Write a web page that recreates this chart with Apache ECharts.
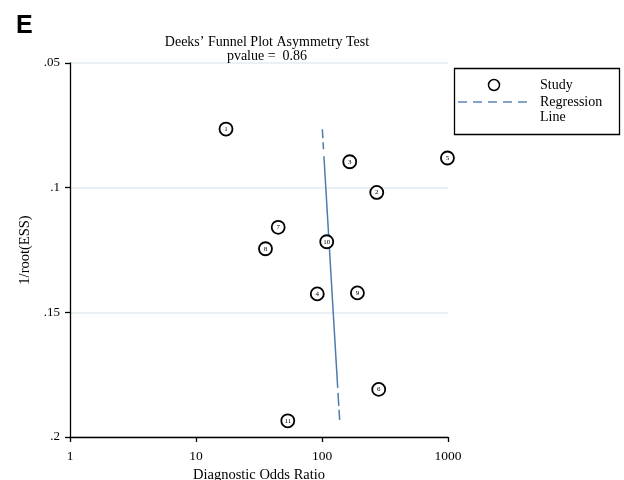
<!DOCTYPE html>
<html><head><meta charset="utf-8">
<script src="https://cdn.jsdelivr.net/npm/echarts@6/dist/echarts.min.js"></script>
<style>html,body{margin:0;padding:0;background:#fff}#c{width:624px;height:480px}</style>
</head><body><div id="c"></div>
<script>
const studies = ['1','2','3','4','5','6','7','8','9','10','11'];
const dor = [17.3, 272, 166, 91.7, 990, 282, 44.9, 35.6, 191, 109, 53.5];
const invRootEss = [0.0765, 0.1019, 0.0896, 0.1426, 0.0881, 0.1809, 0.1159, 0.1245, 0.1422, 0.1217, 0.1935];
const regX = [100.6, 138];
const regY = [0.0766, 0.1932];
const xTicks = [1, 10, 100, 1000];
const yTickLabels = ['.05', '.1', '.15', '.2'];
const yTickValues = [0.05, 0.1, 0.15, 0.2];

const serif = '"Liberation Serif", "DejaVu Serif", serif';
const chart = echarts.init(document.getElementById('c'), null, {renderer: 'canvas'});
const pts = studies.map((s, i) => ({value: [dor[i], invRootEss[i]], name: s}));
const reg = regX.map((x, i) => [x, regY[i]]);

chart.setOption({
  animation: false,
  backgroundColor: '#fff',
  title: [
    {text: 'E', left: 11, top: 9, textStyle: {fontFamily: '"Liberation Sans", Arial, sans-serif', fontSize: 25, fontWeight: 'bold', color: '#000'}},
    {text: 'Deeks\u2019 Funnel Plot Asymmetry Test\npvalue =  0.86', left: 262, top: 30, textAlign: 'center',
     textStyle: {fontFamily: serif, fontSize: 14, fontWeight: 'normal', color: '#000', lineHeight: 14}}
  ],
  grid: {left: 70, right: 176, top: 63, bottom: 43, containLabel: false, outerBoundsMode: 'none'},
  xAxis: {
    type: 'log', logBase: 10, min: 1, max: 1000,
    name: 'Diagnostic Odds Ratio', nameLocation: 'middle', nameGap: 25,
    nameTextStyle: {fontFamily: serif, fontSize: 14.5, color: '#000'},
    axisLine: {lineStyle: {color: '#000', width: 1.3}},
    axisTick: {length: 5, lineStyle: {color: '#000', width: 1.3}},
    axisLabel: {fontFamily: serif, fontSize: 13.5, color: '#000', margin: 12,
      formatter: v => xTicks.includes(Math.round(v)) ? String(Math.round(v)) : ''},
    splitLine: {show: false}, minorTick: {show: false}
  },
  yAxis: {
    type: 'value', inverse: true, min: 0.05, max: 0.2, interval: 0.05,
    name: '1/root(ESS)', nameLocation: 'middle', nameGap: 36, nameRotate: 90,
    nameTextStyle: {fontFamily: serif, fontSize: 14.5, color: '#000'},
    axisLine: {show: true, lineStyle: {color: '#000', width: 1.3}},
    axisTick: {show: true, length: 5, lineStyle: {color: '#000', width: 1.3}},
    axisLabel: {fontFamily: serif, fontSize: 13, color: '#000', margin: 10,
      formatter: v => { const k = yTickValues.findIndex(t => Math.abs(t - v) < 1e-9); return k >= 0 ? yTickLabels[k] : ''; }},
    splitLine: {show: true, lineStyle: {color: '#e3edf2', width: 1.5}}
  },
  series: [
    {
      name: 'Regression Line', type: 'line', data: reg, symbol: 'none', silent: true,
      lineStyle: {color: '#4f7aab', width: 1.5, type: [9, 4, 7, 7, 232, 5, 13, 4, 12, 60]},
      z: 2
    },
    {
      name: 'Study', type: 'scatter', data: pts, symbol: 'circle', symbolSize: 13, clip: false,
      itemStyle: {color: '#fff', borderColor: '#000', borderWidth: 1.8, opacity: 1},
      label: {show: true, position: 'inside', formatter: p => p.name, fontFamily: serif, fontSize: 7, color: '#000'},
      z: 3
    }
  ],
  graphic: [
    {type: 'rect', shape: {x: 454.5, y: 68.5, width: 165, height: 66}, style: {fill: '#fff', stroke: '#000', lineWidth: 1.3}},
    {type: 'circle', shape: {cx: 494, cy: 85, r: 5.5}, style: {fill: '#fff', stroke: '#000', lineWidth: 1.5}},
    {type: 'text', x: 540, y: 85, style: {text: 'Study', fontFamily: serif, fontSize: 14, fill: '#000', verticalAlign: 'middle'}},
    {type: 'line', shape: {x1: 458, y1: 102, x2: 530, y2: 102}, style: {stroke: '#5b86b8', lineWidth: 1.5, lineDash: [9, 6]}},
    {type: 'text', x: 540, y: 102, style: {text: 'Regression', fontFamily: serif, fontSize: 14, fill: '#000', verticalAlign: 'middle'}},
    {type: 'text', x: 540, y: 117, style: {text: 'Line', fontFamily: serif, fontSize: 14, fill: '#000', verticalAlign: 'middle'}}
  ]
});
</script>
</body></html>
